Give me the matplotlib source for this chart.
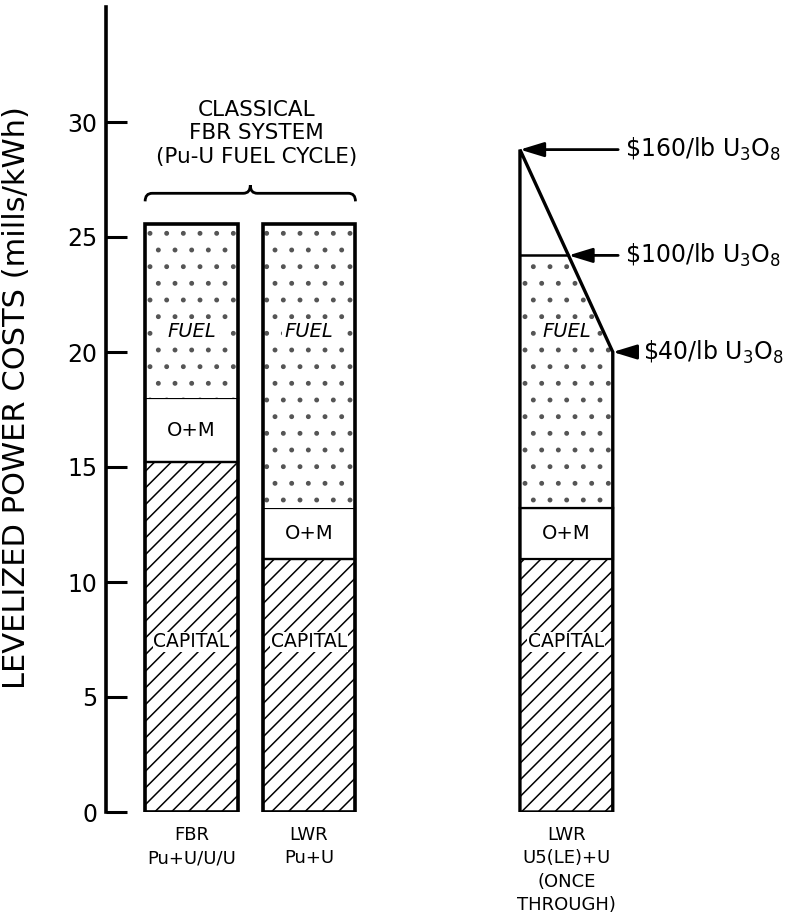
import matplotlib
matplotlib.use('Agg')
import matplotlib.pyplot as plt
from matplotlib.patches import Polygon, PathPatch
from matplotlib.path import Path

plt.rcParams['font.family'] = ['DejaVu Sans']
plt.rcParams['hatch.linewidth'] = 1.1

# ---- data (mills/kWh) ----
categories = ['FBR\nPu+U/U/U', 'LWR\nPu+U', 'LWR\nU5(LE)+U\n(ONCE\nTHROUGH)']
capital = [15.2, 11.0, 11.0]
om = [2.8, 2.2, 2.2]
fuel = [7.55, 12.35]                       # recycle systems
u3o8_prices = [r'\$40/lb U$_\mathregular{3}$O$_\mathregular{8}$',
               r'\$100/lb U$_\mathregular{3}$O$_\mathregular{8}$',
               r'\$160/lb U$_\mathregular{3}$O$_\mathregular{8}$']
once_fuel = [6.8, 11.0, 15.6]              # once-through fuel cost at each U3O8 price
yticks = [0, 5, 10, 15, 20, 25, 30]

# ---- layout ----
pos = [0, 1, 3.19]
width = 0.79
stipple = '#555555'

fig = plt.figure(figsize=(8, 9.15), dpi=100)
ax = fig.add_axes([106/800, 103/915, 674/800, 805/915])
ax.set_xlim(-0.728, -0.728 + 674/117.5)
ax.set_ylim(0, 35)

for s in ['top', 'right', 'bottom']:
    ax.spines[s].set_visible(False)
ax.spines['left'].set_linewidth(2.6)
ax.set_yticks(yticks)
ax.tick_params(axis='y', direction='in', length=15, width=2.2, labelsize=17, pad=6)
ax.set_xticks(pos)
ax.set_xticklabels(categories, fontsize=13, linespacing=1.38, va='top')
ax.tick_params(axis='x', length=0, pad=10)
ax.set_ylabel('LEVELIZED POWER COSTS (mills/kWh)', fontsize=22)
ax.yaxis.set_label_coords(-0.112, 0.515)

# ---- recycle bars (FBR, LWR Pu+U) ----
x12 = pos[:2]
om_bottom = capital[:2]
fuel_bottom = [c + o for c, o in zip(capital[:2], om[:2])]
totals = [b + f for b, f in zip(fuel_bottom, fuel)]
ax.bar(x12, capital[:2], width, color='white', edgecolor='black', hatch='//', linewidth=0)
ax.bar(x12, om[:2], width, bottom=om_bottom, color='white', edgecolor='black', linewidth=1.6)
ax.bar(x12, fuel, width, bottom=fuel_bottom, color='white', edgecolor=stipple, hatch='.', linewidth=0)
ax.bar(x12, capital[:2], width, fill=False, edgecolor='black', linewidth=1.6)
ax.bar(x12, totals, width, fill=False, edgecolor='black', linewidth=2.6)

# ---- once-through LWR bar ----
x3 = pos[2]
L, R = x3 - width/2, x3 + width/2
ax.bar([x3], [capital[2]], width, color='white', edgecolor='black', hatch='//', linewidth=0)
ax.bar([x3], [om[2]], width, bottom=[capital[2]], color='white', edgecolor='black', linewidth=1.6)
base = capital[2] + om[2]
top40, top100, top160 = [base + f for f in once_fuel]
x100 = L + (top160 - top100) / (top160 - top40) * width
fuel_poly = Polygon([(L, base), (R, base), (R, top40), (x100, top100), (L, top100)],
                    closed=True, facecolor='white', edgecolor=stipple, hatch='.', linewidth=0)
ax.add_patch(fuel_poly)
ax.plot([L, R], [base, base], color='black', lw=1.6)
outline = Polygon([(L, 0), (R, 0), (R, top40), (L, top160)], closed=True,
                  fill=False, edgecolor='black', linewidth=2.4, joinstyle='miter')
ax.add_patch(outline)
ax.plot([L, x100], [top100, top100], color='black', lw=1.8)

# price annotations
txt_x = [3.84, 3.69, 3.69]
pts = [(R, top40), (x100, top100), (L, top160)]
for label, (px, py), tx in zip(u3o8_prices, pts, txt_x):
    ax.annotate(label, xy=(px, py), xytext=(tx, py), fontsize=17, va='center', ha='left',
                annotation_clip=False,
                arrowprops=dict(arrowstyle='-|>,head_length=0.85,head_width=0.26',
                                color='black', lw=2, shrinkA=3, shrinkB=0))

# ---- segment labels ----
fuel_label_y = 20.9
for x in pos:
    ax.text(x, fuel_label_y, 'FUEL', ha='center', va='center', fontsize=14, style='italic',
            bbox=dict(facecolor='white', edgecolor='none', pad=2))
om_mid = [capital[i] + om[i] / 2 for i in range(3)]
for x, y in zip(pos, om_mid):
    ax.text(x, y, 'O+M', ha='center', va='center', fontsize=14)
for x in pos:
    ax.text(x, 7.4, 'CAPITAL', ha='center', va='center', fontsize=13.5,
            bbox=dict(facecolor='white', edgecolor='none', pad=0.5))

# ---- brace and header ----
bx0, bx1 = pos[0] - width/2, pos[1] + width/2
bc = (pos[0] + pos[1]) / 2
yb = totals[0] + 1.35
h = 0.35
verts = [(bx0, yb - h), (bx0, yb), (bx0 + 0.06, yb),
         (bc - 0.06, yb), (bc, yb), (bc, yb + h),
         (bc, yb), (bc + 0.06, yb),
         (bx1 - 0.06, yb), (bx1, yb), (bx1, yb - h)]
codes = [Path.MOVETO, Path.CURVE3, Path.CURVE3,
         Path.LINETO, Path.CURVE3, Path.CURVE3,
         Path.CURVE3, Path.CURVE3,
         Path.LINETO, Path.CURVE3, Path.CURVE3]
ax.add_patch(PathPatch(Path(verts, codes), fill=False, lw=2, edgecolor='black'))
ax.text(bc + 0.05, yb + 2.6, 'CLASSICAL\nFBR SYSTEM\n(Pu-U FUEL CYCLE)', ha='center', va='center',
        fontsize=15.5, linespacing=1.2)

fig.savefig('out.png', dpi=100)
